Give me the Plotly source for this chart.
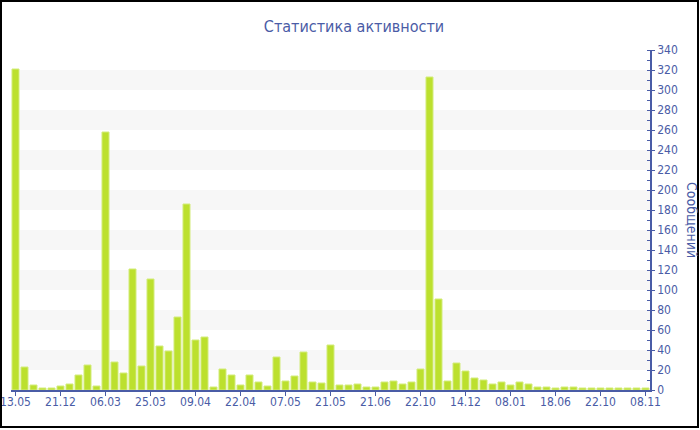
import plotly.graph_objects as go

# Data
bar_index = list(range(71))
messages = [321, 23, 5, 2, 2, 4, 6, 15, 25, 4,
            258, 28, 17, 121, 24, 111, 44, 39, 73, 186,
            50, 53, 3, 21, 15, 5, 15, 8, 4, 33,
            9, 14, 38, 8, 7, 45, 5, 5, 6, 3,
            3, 8, 9, 6, 8, 21, 313, 91, 9, 27,
            19, 12, 10, 6, 8, 5, 8, 6, 3, 3,
            2, 3, 3, 2, 2, 2, 2, 2, 2, 2, 2]
tick_labels = ["13.05", "21.12", "06.03", "25.03", "09.04", "22.04", "07.05",
               "21.05", "21.06", "22.10", "14.12", "08.01", "18.06", "22.10", "08.11"]
tick_positions = list(range(0, 71, 5))

W, H = 700, 430
L, R, T, B = 11, 50, 50, 40
PW, PH = W - L - R, H - T - B
blue = "#4a5ca6"
font = "DejaVu Sans Condensed, DejaVu Sans, sans-serif"

def px_x(p):
    return (p - L) / PW

def px_y(p):
    return (H - B - p) / PH

fig = go.Figure()
fig.add_trace(go.Bar(
    x=bar_index, y=messages,
    marker=dict(color="#bce02e", line=dict(color="#d3ec7c", width=1)),
    hoverinfo="y",
))

shapes = []
for lo in range(20, 340, 40):
    shapes.append(dict(type="rect", xref="paper", yref="y", x0=px_x(20), x1=1,
                       y0=lo, y1=lo + 20, fillcolor="#f7f7f7", line=dict(width=0),
                       layer="below"))
shapes.append(dict(type="rect", xref="paper", yref="paper",
                   x0=px_x(1), x1=px_x(698), y0=px_y(1), y1=px_y(427),
                   line=dict(color="black", width=2), fillcolor="rgba(0,0,0,0)"))

fig.update_layout(
    width=W, height=H,
    margin=dict(l=L, r=R, t=T, b=B, autoexpand=False),
    paper_bgcolor="white", plot_bgcolor="white",
    bargap=0.22,
    showlegend=False,
    font=dict(family=font, color=blue, size=12),
    title=dict(text="Статистика активности", xref="container", yref="container",
               x=354 / W, y=1 - 26 / H, xanchor="center", yanchor="middle",
               font=dict(family=font, size=16, color=blue)),
    xaxis=dict(range=[-0.5, 70.5], tickmode="array", tickvals=tick_positions,
               ticktext=tick_labels, showgrid=False, zeroline=False,
               showline=True, linecolor=blue, linewidth=1.5,
               ticks="outside", ticklen=4, tickcolor=blue,
               ticklabeloverflow="allow", ticklabelstandoff=-4,
               tickfont=dict(family=font, size=12, color=blue), automargin=False),
    yaxis=dict(range=[0, 340], side="right", dtick=20, tick0=0, showgrid=False,
               zeroline=False, showline=True, linecolor=blue, linewidth=1.5,
               ticks="outside", ticklen=3, tickcolor=blue,
               minor=dict(dtick=10, ticks="inside", ticklen=3, tickcolor=blue),
               tickfont=dict(family=font, size=12, color=blue), automargin=False),
    shapes=shapes,
    annotations=[dict(text="Сообщений", xref="paper", yref="paper",
                      x=px_x(692), y=0.5, showarrow=False, textangle=90,
                      font=dict(family=font, size=14, color=blue),
                      xanchor="center", yanchor="middle")],
)

fig.write_html("out.html", config={"displayModeBar": False},
               post_script="document.body.style.margin='0';")
